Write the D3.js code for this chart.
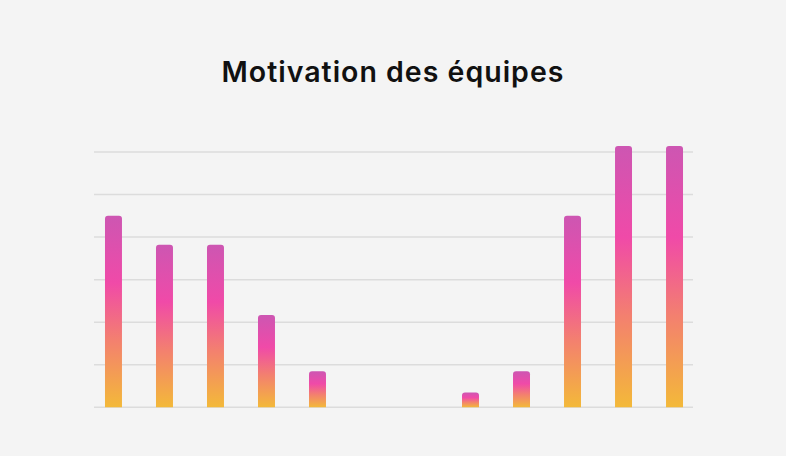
<!DOCTYPE html>
<html>
<head>
<meta charset="utf-8">
<script src="https://cdn.jsdelivr.net/npm/d3@7"></script>
<style>
  html, body { margin: 0; padding: 0; background: #f4f4f4; }
  .title-styling { font-family: Inter, "Noto Sans", sans-serif; font-weight: 600; font-size: 28.5px; letter-spacing: 1px; fill: #111; }
</style>
</head>
<body>
<div id="viz"></div>
<script>
// chart data
const categories = ["1", "2", "3", "4", "5", "6", "7", "8", "9", "10", "11", "12"];
const values = [4.5, 3.82, 3.82, 2.17, 0.85, 0, 0, 0.35, 0.85, 4.5, 6.14, 6.14];
const gridTicks = [0, 1, 2, 3, 4, 5, 6];

const width = 786, height = 456;
const margin = {top: 152, bottom: 48.7};

const data = categories.map((c, i) => ({cat: c, value: values[i]}));

const svg = d3.select("#viz")
  .append("svg")
  .attr("width", width)
  .attr("height", height)
  .attr("viewBox", [0, 0, width, height]);

svg.append("rect")
  .attr("width", width)
  .attr("height", height)
  .attr("fill", "#f4f4f4");

// gradient used by every bar
const grad = svg.append("defs")
  .append("linearGradient")
  .attr("id", "barGrad")
  .attr("x1", 0).attr("y1", 0)
  .attr("x2", 0).attr("y2", 1);
[["0%", "#cd56b2"], ["35%", "#f04aa8"], ["65%", "#f3806f"], ["100%", "#f3b939"]]
  .forEach(s => grad.append("stop").attr("offset", s[0]).attr("stop-color", s[1]));

const x = d3.scaleBand()
  .domain(categories)
  .range([88, 700])
  .paddingInner(0.667)
  .paddingOuter(0.333);

const y = d3.scaleLinear()
  .domain([0, 6])
  .range([height - margin.bottom, margin.top]);

// gridlines
svg.append("g")
  .attr("class", "grid")
  .selectAll("line")
  .data(gridTicks)
  .enter()
  .append("line")
    .attr("x1", 94)
    .attr("x2", 693)
    .attr("y1", d => y(d))
    .attr("y2", d => y(d))
    .attr("stroke", "#dcdcdc")
    .attr("stroke-width", 1.5);

// bars with rounded top corners
const r = 3;
function barPath(d) {
  if (d.value <= 0) return null;
  const x0 = x(d.cat), w = x.bandwidth();
  const y0 = y(0), y1 = y(d.value);
  const rr = Math.min(r, (y0 - y1) / 2);
  return `M${x0},${y0}V${y1 + rr}Q${x0},${y1} ${x0 + rr},${y1}H${x0 + w - rr}Q${x0 + w},${y1} ${x0 + w},${y1 + rr}V${y0}Z`;
}

svg.append("g")
  .attr("class", "rect-bars")
  .selectAll("path")
  .data(data)
  .enter()
  .append("path")
    .attr("d", barPath)
    .attr("fill", "url(#barGrad)");

// title
svg.append("text")
  .attr("x", width / 2)
  .attr("y", 82)
  .attr("text-anchor", "middle")
  .attr("class", "title-styling")
  .text("Motivation des équipes");
</script>
</body>
</html>
